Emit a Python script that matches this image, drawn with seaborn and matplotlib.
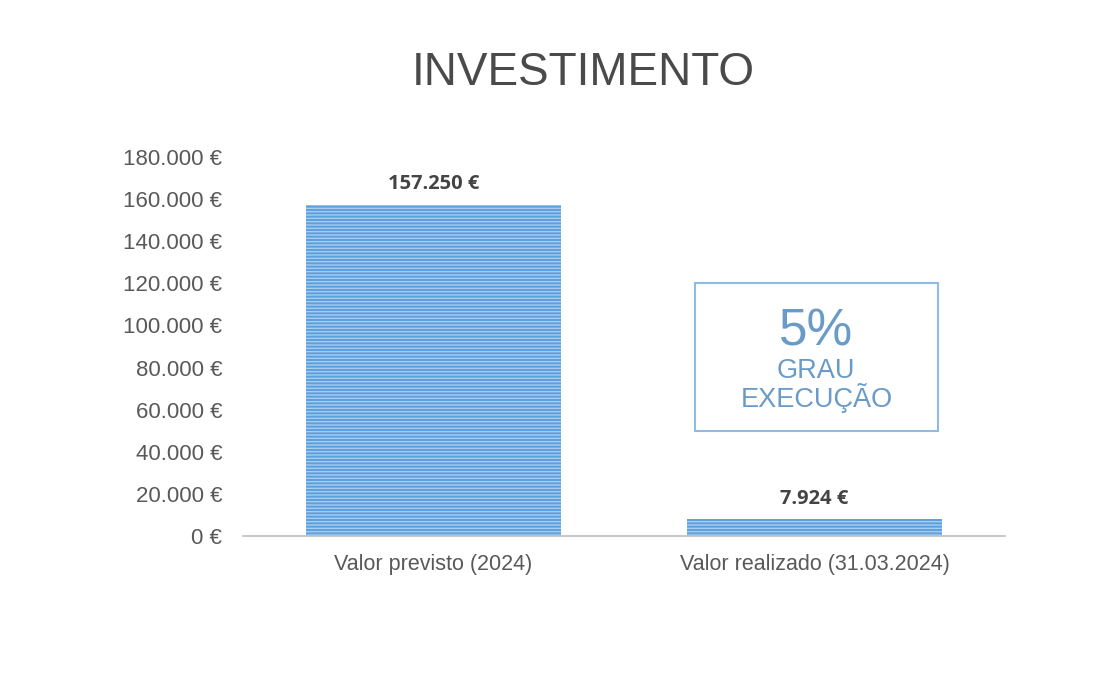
import matplotlib
matplotlib.use("Agg")
import matplotlib.pyplot as plt
import seaborn as sns
import pandas as pd
from matplotlib.patches import Rectangle
from matplotlib.ticker import FuncFormatter

# ===============================
# DATA
# ===============================
categorias = ["Valor previsto (2024)", "Valor realizado (31.03.2024)"]
valores = [157250, 7924]
rotulos = ["157.250 €", "7.924 €"]
y_ticks = [0, 20000, 40000, 60000, 80000, 100000, 120000, 140000, 160000, 180000]

df = pd.DataFrame({"categoria": categorias, "valor": valores})

# ===============================
# STYLE
# ===============================
sns.set_theme(style="white")
plt.rcParams["font.family"] = ["Liberation Sans", "DejaVu Sans"]
plt.rcParams["hatch.linewidth"] = 1.0

BAR_COLOR = "#5f9fdc"
HATCH_COLOR = "#a3cdf2"
TEXT_GRAY = "#595959"
BOX_BLUE = "#6a9bc8"

fig = plt.figure(figsize=(11.16, 6.84), dpi=100)
ax = fig.add_axes([0.2177, 0.2164, 0.6828, 0.5541])

sns.barplot(data=df, x="categoria", y="valor", color=BAR_COLOR, width=0.67,
            saturation=1, ax=ax)
for p in ax.patches:
    p.set_hatch("-----")
    p.set_edgecolor(HATCH_COLOR)
    p.set_linewidth(0)

ax.set_xlim(-0.5, 1.5)
ax.set_ylim(0, 180000)
ax.set_yticks(y_ticks)
ax.yaxis.set_major_formatter(FuncFormatter(lambda v, _: f"{int(v):,} €".replace(",", ".")))
ax.tick_params(axis="y", length=0, pad=15, labelsize=16, labelcolor=TEXT_GRAY)
ax.tick_params(axis="x", length=0, pad=13, labelsize=15.5, labelcolor=TEXT_GRAY)
ax.set_xlabel("")
ax.set_ylabel("")

for side in ["top", "right", "left"]:
    ax.spines[side].set_visible(False)
ax.spines["bottom"].set_color("#bfbfbf")
ax.spines["bottom"].set_linewidth(1.2)

# value labels
for i, (v, lab) in enumerate(zip(valores, rotulos)):
    ax.text(i, v + 5000, lab, ha="center", va="bottom", fontsize=14.5,
            fontweight="bold", color="#444444", family=["Open Sans", "DejaVu Sans"])

# title
fig.text(0.523, 0.893, "INVESTIMENTO", ha="center", va="center", fontsize=33,
         color="#4a4a4a")

# execution box
pct = round(valores[1] / valores[0] * 100)
ax.add_patch(Rectangle((0.593, 0.277), 0.319, 0.3905, transform=ax.transAxes,
                       fill=False, edgecolor="#8dbbe3", linewidth=1.5, clip_on=False))
bx = 0.593 + 0.319 / 2
ax.text(bx, 0.537, f"{pct}%", transform=ax.transAxes, ha="center", va="center",
        fontsize=37, color=BOX_BLUE)
ax.text(bx, 0.436, "GRAU", transform=ax.transAxes, ha="center", va="center",
        fontsize=19.5, color=BOX_BLUE)
ax.text(bx, 0.365, "EXECUÇÃO", transform=ax.transAxes, ha="center", va="center",
        fontsize=19.5, color=BOX_BLUE)

fig.savefig("out.png", dpi=100, facecolor="white")
